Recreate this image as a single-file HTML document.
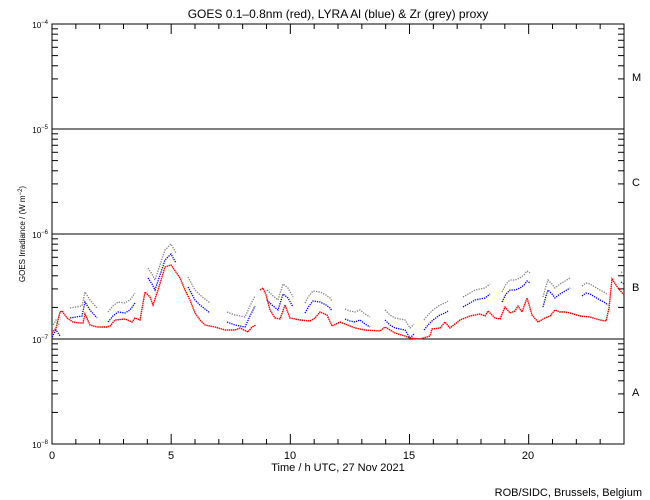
<!DOCTYPE html>
<html><head><meta charset="utf-8"><style>
html,body{margin:0;padding:0;background:#fff;}
svg{display:block;font-family:"Liberation Sans",sans-serif;}
</style></head><body>
<svg id="s" width="650" height="500" viewBox="0 0 650 500" xmlns="http://www.w3.org/2000/svg">
<rect width="650" height="500" fill="#fff"/>
<text x="338" y="18" font-size="12" text-anchor="middle">GOES 0.1–0.8nm (red), LYRA Al (blue) &amp; Zr (grey) proxy</text>
<g id="ax" stroke="#000" stroke-width="1" fill="none">
<rect x="52" y="24" width="572" height="420"/>
<line x1="52" y1="129" x2="624" y2="129"/>
<line x1="52" y1="234" x2="624" y2="234"/>
<line x1="52" y1="339" x2="624" y2="339"/>
</g>
<g font-size="8">
<text x="48" y="28" text-anchor="end">10<tspan dy="-4" font-size="6">−4</tspan></text>
<text x="48" y="133" text-anchor="end">10<tspan dy="-4" font-size="6">−5</tspan></text>
<text x="48" y="238" text-anchor="end">10<tspan dy="-4" font-size="6">−6</tspan></text>
<text x="48" y="343" text-anchor="end">10<tspan dy="-4" font-size="6">−7</tspan></text>
<text x="48" y="448" text-anchor="end">10<tspan dy="-4" font-size="6">−8</tspan></text>
<text transform="translate(25,234) rotate(-90)" text-anchor="middle">GOES Irradiance / (W m<tspan dy="-3" font-size="6">−2</tspan><tspan dy="3">)</tspan></text>
</g>
<g font-size="11">
<text x="632" y="81">M</text>
<text x="632" y="186">C</text>
<text x="632" y="291">B</text>
<text x="632" y="396">A</text>
<text x="52" y="459" text-anchor="middle">0</text>
<text x="171" y="459" text-anchor="middle">5</text>
<text x="290" y="459" text-anchor="middle">10</text>
<text x="409" y="459" text-anchor="middle">15</text>
<text x="528" y="459" text-anchor="middle">20</text>
<text x="338" y="471" text-anchor="middle">Time / h UTC, 27 Nov 2021</text>
<text x="642" y="496" text-anchor="end">ROB/SIDC, Brussels, Belgium</text>
</g>
<g id="data" fill="none" stroke-width="1.3"></g>
</svg>
<script>
var s=document.getElementById('ax'),d=document.getElementById('data');
function L(x1,y1,x2,y2){var l=document.createElementNS('http://www.w3.org/2000/svg','line');l.setAttribute('x1',x1);l.setAttribute('y1',y1);l.setAttribute('x2',x2);l.setAttribute('y2',y2);s.appendChild(l);}
for(var h=0;h<=24;h++){var x=52+h*572/24,len=(h%5==0)?10:5;L(x,444,x,444-len);L(x,24,x,24+len);}
for(var dec=0;dec<4;dec++){var b=444-dec*105;for(var m=2;m<=9;m++){var y=b-Math.log10(m)*105;L(52,y,58,y);L(624,y,618,y);}}
function P(pts,col,dy,dash,w){var p=document.createElementNS('http://www.w3.org/2000/svg','polyline');var a=[];for(var i=0;i<pts.length;i+=2)a.push(pts[i]+','+(pts[i+1]+dy));p.setAttribute('points',a.join(' '));p.setAttribute('stroke',col);if(dash)p.setAttribute('stroke-dasharray',dash);if(w)p.setAttribute('stroke-width',w);d.appendChild(p);}
var blue=[
[52,337,56,330,60,336],
[70,318,76,317,82,316,85,302,90,310,97,318],
[108,322,113,316,118,312,125,313,130,310,135,303],
[148,278,152,284,155,290,160,275,165,260,171,254,176,263],
[188,287,195,300,200,305,205,309,210,313],
[227,322,235,325,245,327,250,316,255,306],
[267,300,272,305,278,310,283,294,288,298,293,307],
[305,313,309,306,313,301,320,302,326,305,330,308,332,311],
[345,319,350,321,355,322,360,320,365,324,370,327],
[385,320,390,325,395,328,405,330,410,338,414,334],
[424,330,428,325,433,320,440,315,445,313,448,311],
[463,307,470,303,475,300,480,299,485,298,490,294],
[502,302,506,294,510,290,515,290,520,288,524,285,527,281,530,283],
[543,307,546,296,548,290,552,294,555,298,560,294,565,291,570,288],
[582,296,586,293,590,294,595,297,600,300,604,302,608,305],
[621,282,624,284]];
blue.forEach(function(b){P(b,'#808080',-10,'1.3 1.2');});
blue.forEach(function(b){P(b,'#0000ff',0,'1.3 1');});
P([52,333,56,328,60,312,62,311,67,318,73,322,80,323,83,323,85,314,90,325,97,327,107,327,110,326,115,320,125,319,132,322,135,318,140,320,145,292,150,297,153,305,158,290,165,267,171,265,180,278,185,290,190,300,195,313,200,320,205,325,215,327,225,330,235,330,240,328,248,332,252,327,256,325],'#ff0000',0,'1.5 0.6',1.4);
P([260,290,263,288,266,295,270,310,275,318,280,319,285,305,290,318,300,320,310,321,315,318,320,312,327,315,332,326,340,322,355,328,365,330,380,331,385,327,395,333,405,336,410,338,420,339,430,336,432,329,440,328,445,322,450,328,460,320,470,316,480,314,485,316,488,311,495,318,500,319,505,307,510,313,515,311,518,306,522,312,527,298,532,315,538,322,545,318,550,316,555,310,560,312,565,312,570,313,580,316,590,317,600,320,606,321,609,308,612,279,618,288,624,295],'#ff0000',0,'1.5 0.6',1.4);
</script>
</body></html>
